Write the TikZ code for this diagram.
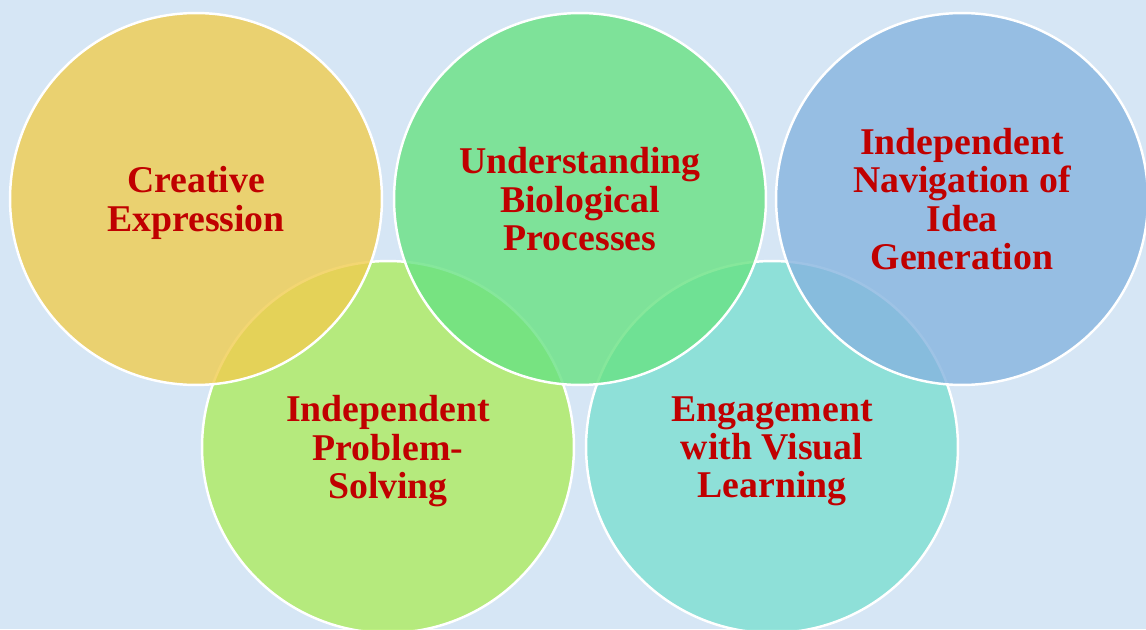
\documentclass[tikz,border=0pt]{standalone}
\usepackage{fontspec}
\setmainfont{Liberation Serif}

\definecolor{bgblue}{RGB}{214,230,245}
\definecolor{capred}{RGB}{192,0,0}
\definecolor{cyellow}{RGB}{240,204,79}
\definecolor{cgreen}{RGB}{104,226,131}
\definecolor{cblue}{RGB}{134,180,223}
\definecolor{clime}{RGB}{173,236,96}
\definecolor{cteal}{RGB}{124,223,209}

\tikzset{
  bubble/.style={circle, draw=white, line width=1.4pt, fill opacity=0.8, text opacity=1,
    minimum size=7.44cm, inner sep=0pt, align=center, text=capred, text depth=0pt,
    font=\fontsize{21.5}{21.8}\selectfont\bfseries}
}

\begin{document}
\begin{tikzpicture}[x=0.02cm, y=-0.02cm]

\useasboundingbox (0,0) rectangle (1146,629);
\fill[bgblue] (0,0) rectangle (1146,629);

% lower row
\node[bubble, fill=clime] (problem) at (388,447) {Independent\\Problem-\\Solving};
\node[bubble, fill=cteal] (visual) at (772,447) {Engagement\\with Visual\\Learning};

% upper row
\node[bubble, fill=cyellow] (creative) at (196,199) {Creative\\Expression};
\node[bubble, fill=cgreen] (biology) at (580,199) {Understanding\\Biological\\Processes};
\node[bubble, fill=cblue] (navigation) at (962,199) {Independent\\Navigation of\\Idea\\Generation};

\end{tikzpicture}
\end{document}
